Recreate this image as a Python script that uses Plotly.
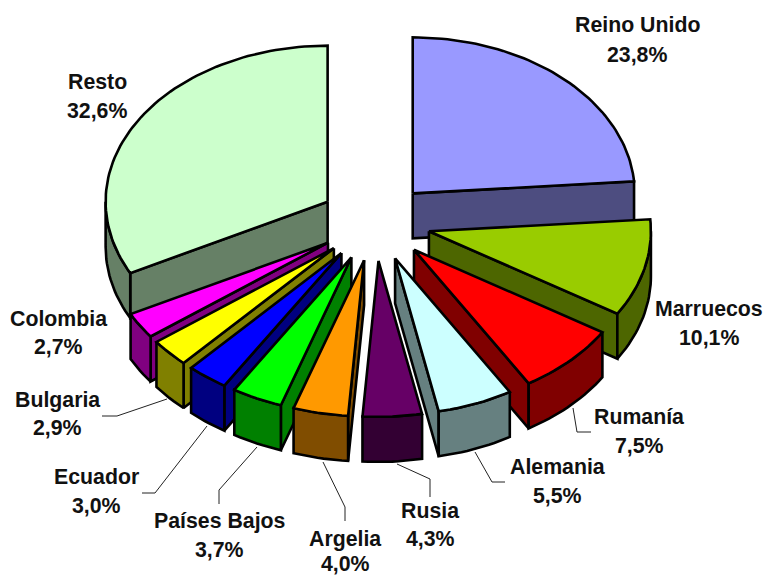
import math
import plotly.graph_objects as go

categories = ["Reino Unido", "Marruecos", "Rumanía", "Alemania", "Rusia", "Argelia",
              "Países Bajos", "Ecuador", "Bulgaria", "Colombia", "Resto"]
values = [23.8, 10.1, 7.5, 5.5, 4.3, 4.0, 3.7, 3.0, 2.9, 2.7, 32.6]
top_colors = ["#9999FF", "#99CC00", "#FF0000", "#CCFFFF", "#660066", "#FF9900",
              "#00FF00", "#0000FF", "#FFFF00", "#FF00FF", "#CCFFCC"]
wall_colors = ["#4D4D80", "#4D6600", "#800000", "#668080", "#330033", "#804D00",
               "#008000", "#000080", "#808000", "#800080", "#668066"]
# label anchor positions (name centre, percent centre) in pixels
label_x = [637, 709, 639, 557, 430, 345, 219, 96, 57, 58, 97]
name_y = [25, 309, 417, 467, 511, 539, 521, 477, 400, 319, 82]
pct_y = [55, 338, 446, 496, 539, 564, 550, 506, 428, 347, 111]
leaders = {
    "Rumanía": [(573, 408), (577, 432), (591, 432)],
    "Alemania": [(475, 452), (492, 482), (505, 482)],
    "Rusia": [(397, 464), (430, 479), (430, 497)],
    "Argelia": [(323, 462), (345, 507), (345, 521)],
    "Países Bajos": [(257, 447), (219, 490), (219, 504)],
    "Ecuador": [(207, 426), (155, 493), (142, 493)],
    "Bulgaria": [(167, 399), (117, 416), (102, 416)],
}

CX, CY, RX, RY, EXPLODE, DEPTH = 375, 222, 222, 156, 0.25, 45


def pt(apex, a, r=1.0, dz=0):
    return apex[0] + r * RX * math.sin(a), apex[1] - r * RY * math.cos(a) + dz


def arc(apex, a0, a1, dz=0):
    n = max(2, int(abs(a1 - a0) / math.radians(1.5)))
    return [pt(apex, a0 + (a1 - a0) * i / n, 1.0, dz) for i in range(n + 1)]


def poly(fig, pts, color):
    xs = [p[0] for p in pts] + [pts[0][0]]
    ys = [p[1] for p in pts] + [pts[0][1]]
    fig.add_trace(go.Scatter(x=xs, y=ys, mode="lines", fill="toself", fillcolor=color,
                             line=dict(color="black", width=2.6, shape="linear"),
                             hoverinfo="skip", showlegend=False))


slices = []
cum = 0.0
total = sum(values)
for i, v in enumerate(values):
    a0 = 2 * math.pi * cum / total
    a1 = 2 * math.pi * (cum + v) / total
    cum += v
    mid = (a0 + a1) / 2
    apex = (CX + EXPLODE * RX * math.sin(mid), CY - EXPLODE * RY * math.cos(mid))
    slices.append((abs(mid - math.pi), i, a0, a1, apex))

fig = go.Figure()
for _, i, a0, a1, apex in sorted(slices, key=lambda s: -s[0]):
    wall = wall_colors[i]
    if math.sin(a0) < 0:
        e = pt(apex, a0)
        poly(fig, [apex, e, (e[0], e[1] + DEPTH), (apex[0], apex[1] + DEPTH)], wall)
    if math.sin(a1) > 0:
        e = pt(apex, a1)
        poly(fig, [apex, e, (e[0], e[1] + DEPTH), (apex[0], apex[1] + DEPTH)], wall)
    lo, hi = max(a0, math.pi / 2), min(a1, 3 * math.pi / 2)
    if lo < hi:
        poly(fig, arc(apex, lo, hi) + arc(apex, hi, lo, DEPTH), wall)
    poly(fig, [apex] + arc(apex, a0, a1), top_colors[i])

for name, path in leaders.items():
    fig.add_trace(go.Scatter(x=[p[0] for p in path], y=[p[1] for p in path], mode="lines",
                             line=dict(color="#222222", width=1),
                             hoverinfo="skip", showlegend=False))

font = dict(family="Liberation Sans, Arial, sans-serif", size=21.3, color="#111111")
for i, name in enumerate(categories):
    pct = f"{values[i]:.1f}%".replace(".", ",")
    for txt, y in ((name, name_y[i]), (pct, pct_y[i])):
        fig.add_annotation(x=label_x[i], y=y, text=f"<b>{txt}</b>", showarrow=False,
                           xanchor="center", yanchor="middle", font=font)

fig.update_layout(
    width=765, height=576, margin=dict(l=0, r=0, t=0, b=0),
    paper_bgcolor="white", plot_bgcolor="white", showlegend=False,
    xaxis=dict(range=[0, 765], visible=False, fixedrange=True),
    yaxis=dict(range=[576, 0], visible=False, fixedrange=True),
)
fig.write_html("out.html", config={"displayModeBar": False},
               post_script="document.body.style.margin='0';document.body.style.overflow='hidden';")
